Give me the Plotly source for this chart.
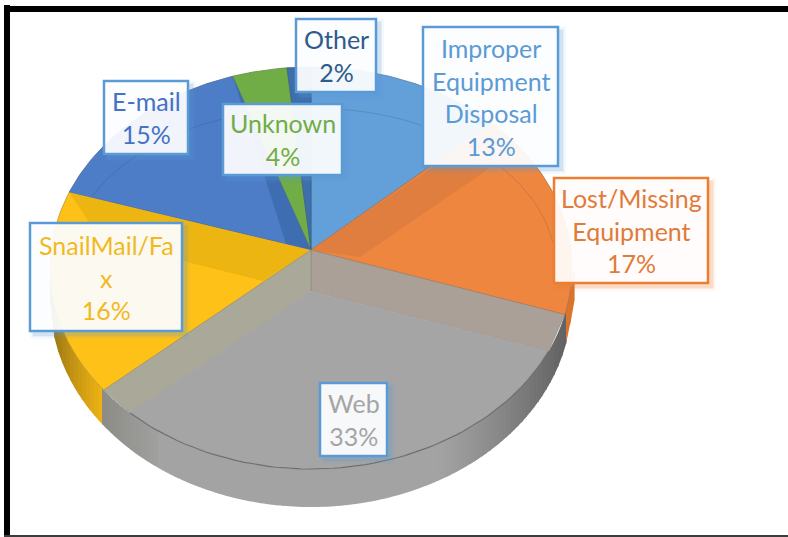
import math
import plotly.graph_objects as go

# ---- data ----
categories = ["Improper Equipment Disposal", "Lost/Missing Equipment", "Web",
              "SnailMail/Fax", "E-mail", "Unknown", "Other"]
values = [13.2, 16.9, 33.4, 16.3, 14.9, 3.7, 1.6]
label_lines = [["Improper", "Equipment", "Disposal"], ["Lost/Missing", "Equipment"], ["Web"],
               ["SnailMail/Fa", "x"], ["E-mail"], ["Unknown"], ["Other"]]
face_colors = ["#639fd9", "#ee8640", "#a5a5a5", "#fdc117", "#4d7dc7", "#70ad47", "#3d6fac"]
text_colors = ["#5b9bd5", "#e07b39", "#a5a5a5", "#f2b91e", "#4472c4", "#70ad47", "#2f5b8a"]
border_colors = ["#5b9bd5", "#ed7d31", "#5b9bd5", "#5b9bd5", "#5b9bd5", "#5b9bd5", "#5b9bd5"]
# label boxes: x0, y0, x1, y1 (page layout)
boxes = [(423, 27, 558, 166), (554, 178, 708, 283), (320, 383, 387, 456),
         (30, 223, 182, 331), (104, 81, 188, 154), (223, 104, 342, 175), (296, 19, 376, 92)]

# ---- perspective geometry (layout constants) ----
CX, CY, RX, RY = 311, 268, 261, 201      # rim ellipse
APEX_Y, WEB_APEX_Y = 250, 291            # pie centre, recessed web centre
SIDE_CY, SIDE_RY = 300, 207              # lower silhouette
IN_RX, IN_RY = 245, 160                  # bevel ellipse


def rim(frac, apex_y=APEX_Y):
    """Point on the rim for a cumulative fraction, seen in perspective."""
    a = 2 * math.pi * frac
    k = (CY - apex_y) / RY
    den = 1 + k * math.cos(a)
    u = math.sin(a) * math.sqrt(1 - k * k) / den
    v = (math.cos(a) + k) / den
    return CX + RX * u, CY - RY * v


def arc(f0, f1, apex_y=APEX_Y, n=60):
    return [rim(f0 + (f1 - f0) * i / n, apex_y) for i in range(n + 1)]


def poly(fig, pts, fill, line=None, width=0.8):
    xs = [p[0] for p in pts] + [pts[0][0]]
    ys = [p[1] for p in pts] + [pts[0][1]]
    fig.add_trace(go.Scatter(x=xs, y=ys, mode="lines", fill="toself", fillcolor=fill,
                             line=dict(color=line or fill, width=width if line else 0),
                             hoverinfo="skip", showlegend=False))


def mix(c1, c2, t):
    a = [int(c1[i:i + 2], 16) for i in (1, 3, 5)]
    b = [int(c2[i:i + 2], 16) for i in (1, 3, 5)]
    return "#%02x%02x%02x" % tuple(round(a[i] + (b[i] - a[i]) * t) for i in range(3))


def edge_y(x, cy, ry):
    d = min(1, abs(x - CX) / RX)
    return cy + ry * math.sqrt(1 - d * d)


total = sum(values)
starts, s = [], 0
for v in values:
    starts.append(s / total)
    s += v
ends = starts[1:] + [1.0]
WEB = categories.index("Web")
LOST = categories.index("Lost/Missing Equipment")
MAIL = categories.index("E-mail")
SNAIL = categories.index("SnailMail/Fax")

fig = go.Figure()

# ---- side wall, split into thin vertical strips for shading ----
xL = rim(starts[WEB + 1])[0]
xR = rim(ends[LOST])[0]
x = CX - RX
while x < CX + RX:
    x1 = x + 4
    xm = x + 2
    if xm < xL:
        t = (xm - (CX - RX)) / (xL - (CX - RX))
        col = mix("#8a6a12", "#f0b414", t ** 0.7)
    elif xm > xR:
        col = "#d9742c"
    else:
        t = (xm - xL) / (xR - xL)
        if t < 0.12:
            col = mix("#8d8d86", "#a0a0a0", t / 0.12)
        elif t < 0.72:
            col = "#a3a3a3"
        else:
            col = mix("#a3a3a3", "#626262", ((t - 0.72) / 0.28) ** 1.2)
    poly(fig, [(x, edge_y(x, CY, RY)), (x1 + 0.6, edge_y(x1 + 0.6, CY, RY)),
               (x1 + 0.6, edge_y(x1 + 0.6, SIDE_CY, SIDE_RY)), (x, edge_y(x, SIDE_CY, SIDE_RY))], col)
    x = x1

# ---- top face slices ----
apex = (CX, APEX_Y)
for i, c in enumerate(categories):
    if i != WEB:
        poly(fig, [apex] + arc(starts[i], ends[i]), face_colors[i],
             line=mix(face_colors[i], "#404040", 0.35))

# darker bands next to the slice walls
r_mail = rim(ends[MAIL])
poly(fig, [apex, (CX - 24, APEX_Y - 3), r_mail], "#3f6db2")
poly(fig, [apex, (CX + 49, APEX_Y + 7), (CX + 179, 168), (CX + 125, 165)], "#df7e3e")
r_snail = rim(ends[SNAIL])
poly(fig, [apex, (CX - 48, 281), (CX - 124, 262), (CX - 210, 240), r_snail], "#edb511")

# bevel ellipse, faint arcs on the upper half
def bevel(a0, a1, n=60):
    return [(CX + IN_RX * math.sin(a0 + (a1 - a0) * i / n),
             CY - IN_RY * math.cos(a0 + (a1 - a0) * i / n)) for i in range(n + 1)]

for a0, a1 in [(-1.10, 1.41)]:
    pts = bevel(a0, a1)
    fig.add_trace(go.Scatter(x=[p[0] for p in pts], y=[p[1] for p in pts], mode="lines",
                             line=dict(color="rgba(40,40,60,0.16)", width=1),
                             hoverinfo="skip", showlegend=False))

# ---- recessed web slice ----
a0, a1 = starts[WEB], ends[WEB]
web_apex = (CX, WEB_APEX_Y)
R1, L1 = rim(a0), rim(a1)
R2, L2 = rim(a0, WEB_APEX_Y), rim(a1, WEB_APEX_Y)
poly(fig, [apex, R1, R2, web_apex], "#aba098", line="#8d8580", width=0.6)
poly(fig, [apex, L1, L2, web_apex], "#a9a899", line="#8f8e80", width=0.6)
poly(fig, [web_apex] + arc(a0, a1, WEB_APEX_Y), face_colors[WEB])
rim_pts = arc(a0, a1, WEB_APEX_Y)
fig.add_trace(go.Scatter(x=[p[0] for p in rim_pts], y=[p[1] for p in rim_pts], mode="lines",
                         line=dict(color="#6e6e6e", width=1.2), hoverinfo="skip", showlegend=False))

# ---- label boxes ----
shapes, annotations = [], []
for i, (x0, y0, x1, y1) in enumerate(boxes):
    bc = border_colors[i]
    rgb = tuple(int(bc[j:j + 2], 16) for j in (1, 3, 5))
    for grow, alpha in [(4, 0.06), (2, 0.10), (1, 0.14)]:
        shapes.append(dict(type="rect", xref="x", yref="y", layer="above",
                           x0=x0 - grow + 4, y0=y0 - grow + 4, x1=x1 + grow + 4, y1=y1 + grow + 4,
                           line=dict(width=0), fillcolor="rgba(%d,%d,%d,%.2f)" % (*rgb, alpha)))
    shapes.append(dict(type="rect", xref="x", yref="y", layer="above", x0=x0, y0=y0, x1=x1, y1=y1,
                       line=dict(color=bc, width=2.5), fillcolor="rgba(255,255,255,0.92)"))
    text = "<br>".join(label_lines[i] + ["%d%%" % round(values[i])])
    annotations.append(dict(x=(x0 + x1) / 2, y=(y0 + y1) / 2, xref="x", yref="y",
                            xanchor="center", yanchor="middle", showarrow=False, text=text,
                            font=dict(family="Lato", size=25, color=text_colors[i])))

# ---- outer black frame ----
for a in [dict(x0=4, y0=5, x1=10, y1=537), dict(x0=4, y0=6, x1=788, y1=12)]:
    shapes.append(dict(type="rect", xref="x", yref="y", layer="above", fillcolor="#000000",
                       line=dict(width=0), **a))
shapes.append(dict(type="rect", xref="x", yref="y", layer="above", x0=4, y0=535, x1=788, y1=537,
                   fillcolor="#3c3c3c", line=dict(width=0)))

fig.update_layout(
    width=788, height=537, autosize=False, margin=dict(l=0, r=0, t=0, b=0),
    paper_bgcolor="white", plot_bgcolor="white", showlegend=False,
    xaxis=dict(range=[0, 788], visible=False, fixedrange=True),
    yaxis=dict(range=[537, 0], visible=False, fixedrange=True),
    shapes=shapes, annotations=annotations,
)
fig.write_html("out.html", config={"displayModeBar": False},
               post_script="document.body.style.margin='0';document.body.style.overflow='hidden';")
